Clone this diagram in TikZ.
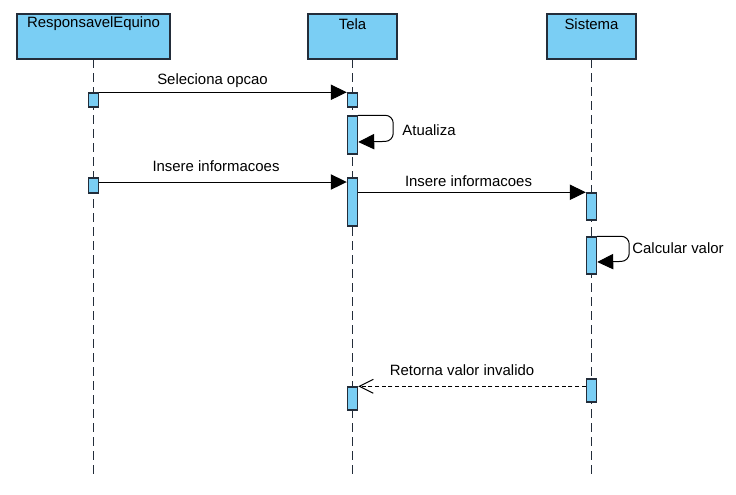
\documentclass[tikz,border=0pt]{standalone}
\usepackage{fontspec}
\setmainfont{Liberation Sans}
\usetikzlibrary{arrows.meta}

\definecolor{actfill}{RGB}{122,206,244}
\definecolor{actline}{RGB}{35,45,58}

\tikzset{every picture/.style={line width=0.75pt}}
\tikzset{
  lifebox/.style={draw=actline, fill=actfill, line width=1.4pt, minimum height=33.75pt, inner sep=0pt},
  actbar/.style={draw=actline, fill=actfill, line width=1.1pt, minimum width=7.5pt, inner sep=0pt},
  lifeline/.style={draw=actline, line width=1pt, dash pattern=on 7pt off 3.5pt},
  msg/.style={-{Triangle[length=12pt,width=11.5pt]}},
  reply/.style={densely dashed, -{Straight Barb[length=10.5pt,width=10.5pt]}},
  lbl/.style={font=\fontsize{11.2}{13}\selectfont, inner sep=0pt}
}

\begin{document}
\begin{tikzpicture}[x=0.75pt,y=0.75pt,yscale=-1,xscale=1]
	\path[use as bounding box] (0,0) rectangle (736,494);

	%Lifelines
	\draw[lifeline] (93.5,59) -- (93.5,478) ;
	\draw[lifeline] (352.5,59) -- (352.5,478) ;
	\draw[lifeline] (591.5,59) -- (591.5,478) ;

	%Heads
	\node[lifebox, minimum width=114.75pt] (resp) at (93.5,36.5) {};
	\node[lifebox, minimum width=66.75pt] (tela) at (352.5,36.5) {};
	\node[lifebox, minimum width=66.75pt] (sist) at (591.5,36.5) {};
	% Text Node
	\draw (93.5,24) node[lbl] (respname) {ResponsavelEquino};
	% Text Node
	\draw (352.5,24) node[lbl] (telaname) {Tela};
	% Text Node
	\draw (591.5,24) node[lbl] (sistname) {Sistema};

	%Activations
	\node[actbar, minimum height=10.5pt] (r1) at (93.5,100) {};
	\node[actbar, minimum height=10.5pt] (t1) at (352.5,100) {};
	\node[actbar, minimum height=28.5pt] (t2) at (352.5,135) {};
	\node[actbar, minimum height=11.25pt] (r2) at (93.5,185.5) {};
	\node[actbar, minimum height=36pt] (t3) at (352.5,202) {};
	\node[actbar, minimum height=20.25pt] (s1) at (591.5,206.5) {};
	\node[actbar, minimum height=27.75pt] (s2) at (591.5,255.5) {};
	\node[actbar, minimum height=17.25pt] (s3) at (591.5,390.5) {};
	\node[actbar, minimum height=17.25pt] (t4) at (352.5,398.5) {};

	%Messages
	\draw[msg] (r1.north east) -- (t1.north west) ;
	\draw[msg, rounded corners=6] (t2.north east) -- ++(35,0) -- ++(0,26) -- (t2.east |- 0,142) ;
	\draw[msg] (r2.east |- 0,182) -- (t3.west |- 0,182) ;
	\draw[msg] (t3.east |- s1.north) -- (s1.north west) ;
	\draw[msg, rounded corners=6] (s2.north east) -- ++(32,0) -- ++(0,25) -- (s2.east |- 0,262) ;
	\draw[reply] (s3.west |- t4.north) -- (t4.north east) ;

	% Text Node
	\draw (212.5,81) node[lbl] (selopc) {Seleciona opcao};
	% Text Node
	\draw (429,130) node[lbl] (atual) {Atualiza};
	% Text Node
	\draw (216,166) node[lbl] (insA) {Insere informacoes};
	% Text Node
	\draw (468.5,181) node[lbl] (insB) {Insere informacoes};
	% Text Node
	\draw (678,248) node[lbl] (calc) {Calcular valor};
	% Text Node
	\draw (462,370) node[lbl] (ret) {Retorna valor invalido};

\end{tikzpicture}
\end{document}
